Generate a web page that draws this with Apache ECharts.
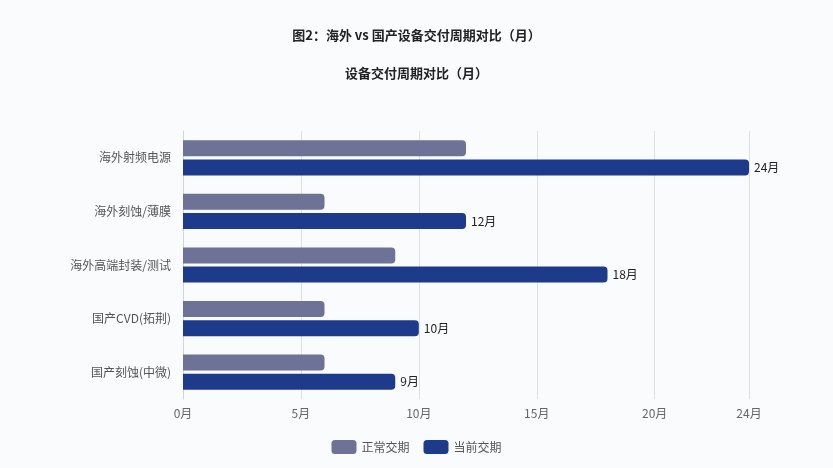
<!DOCTYPE html>
<html>
<head>
<meta charset="utf-8">
<script src="https://cdn.jsdelivr.net/npm/echarts@6/dist/echarts.min.js"></script>
<style>
  html, body {margin: 0; padding: 0; background: #f9fbfd;}
  #chart {width: 833px; height: 468px;}
</style>
</head>
<body>
<div id="chart"></div>
<script>
// 类别从下到上（category 轴从底部开始）
const categories = ['国产刻蚀(中微)', '国产CVD(拓荆)', '海外高端封装/测试', '海外刻蚀/薄膜', '海外射频电源'];
const normalLead = [6, 6, 9, 6, 12];
const currentLead = [9, 10, 18, 12, 24];
const seriesNames = ['正常交期', '当前交期'];
const colors = ['#6d7296', '#1e3a8a'];

const chart = echarts.init(document.getElementById('chart'));
const font = '"Noto Sans CJK SC", "Noto Sans", sans-serif';

const option = {
  backgroundColor: '#f9fbfd',
  color: colors,
  textStyle: {fontFamily: font},
  title: [
    {
      text: '图2：海外 vs 国产设备交付周期对比（月）',
      left: 'center',
      top: 24,
      textStyle: {fontSize: 13, fontWeight: 'bold', color: '#222', fontFamily: font}
    },
    {
      text: '设备交付周期对比（月）',
      left: 'center',
      top: 62,
      textStyle: {fontSize: 13, fontWeight: 'bold', color: '#222', fontFamily: font}
    }
  ],
  legend: {
    data: seriesNames,
    bottom: 9,
    icon: 'roundRect',
    itemWidth: 25,
    itemHeight: 14,
    itemGap: 14,
    textStyle: {color: '#555', fontSize: 12}
  },
  grid: {left: 183, right: 84, top: 131, bottom: 69},
  xAxis: {
    type: 'value',
    min: 0,
    max: 24,
    interval: 5,
    axisLine: {show: false},
    axisTick: {show: false},
    splitLine: {lineStyle: {color: '#dde0e6'}},
    axisLabel: {formatter: '{value}月', color: '#666', fontSize: 12, margin: 8}
  },
  yAxis: {
    type: 'category',
    data: categories,
    axisLine: {lineStyle: {color: '#d0d4dc'}},
    axisTick: {lineStyle: {color: '#d0d4dc'}},
    axisLabel: {color: '#555', fontSize: 12, margin: 12}
  },
  series: [
    {
      name: seriesNames[0],
      type: 'bar',
      data: normalLead,
      barWidth: 16,
      barGap: '20%',
      itemStyle: {borderRadius: [0, 4, 4, 0]}
    },
    {
      name: seriesNames[1],
      type: 'bar',
      data: currentLead,
      barWidth: 16,
      itemStyle: {borderRadius: [0, 4, 4, 0]},
      label: {
        show: true,
        position: 'right',
        formatter: '{c}月',
        color: '#222',
        fontSize: 12
      }
    }
  ]
};
chart.setOption(option);
</script>
</body>
</html>
